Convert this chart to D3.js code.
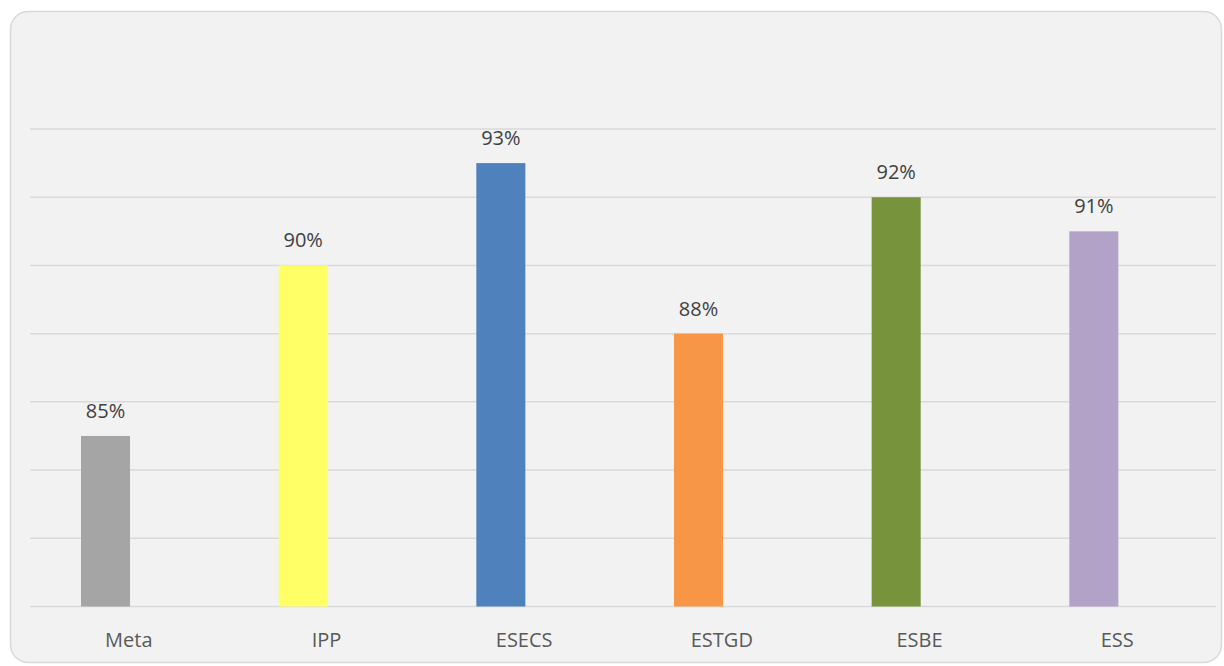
<!DOCTYPE html>
<html>
<head>
<meta charset="utf-8">
<script src="https://cdn.jsdelivr.net/npm/d3@7"></script>
<style>
    html, body { margin: 0; padding: 0; background: #ffffff; }
    svg { display: block; }
    text { font-family: "Open Sans", sans-serif; }
</style>
</head>
<body>
<div id="chart"></div>
<script>
// data
const categories = ["Meta", "IPP", "ESECS", "ESTGD", "ESBE", "ESS"];
const values = [85, 90, 93, 88, 92, 91];
const labels = ["85%", "90%", "93%", "88%", "92%", "91%"];
const colors = ["#a5a5a5", "#ffff66", "#4f81bd", "#f79646", "#77933c", "#b3a2c7"];
const gridTicks = [80, 82, 84, 86, 88, 90, 92, 94];

const WIDTH = 1224;
const HEIGHT = 666;
const margin = {top: 129, right: 8, bottom: 59, left: 30};

const svg = d3.select("#chart").append("svg")
    .attr("width", WIDTH)
    .attr("height", HEIGHT);

// chart area frame
svg.append("rect")
    .attr("x", 10.5)
    .attr("y", 11.5)
    .attr("width", 1211)
    .attr("height", 651)
    .attr("rx", 18)
    .attr("fill", "#f2f2f2")
    .attr("stroke", "#d9d9d9")
    .attr("stroke-width", 1.5);

const x = d3.scaleBand()
    .domain(categories)
    .range([margin.left, WIDTH - margin.right]);

const y = d3.scaleLinear()
    .domain([80, 94])
    .range([HEIGHT - margin.bottom - 0.5, margin.top]);

// gridlines
svg.append("g").attr("class", "grid")
    .selectAll("line")
    .data(gridTicks)
    .join("line")
    .attr("x1", margin.left)
    .attr("x2", WIDTH - margin.right)
    .attr("y1", d => y(d))
    .attr("y2", d => y(d))
    .attr("stroke", "#d9d9d9")
    .attr("stroke-width", 1.5);

const step = x.step();
const barOffset = step * 0.258;
const barWidth = step * 0.248;

const data = categories.map((c, i) => ({key: c, value: values[i], label: labels[i], color: colors[i]}));

svg.append("g").attr("class", "bars")
    .selectAll("rect")
    .data(data)
    .join("rect")
    .attr("x", d => x(d.key) + barOffset)
    .attr("y", d => y(d.value))
    .attr("width", barWidth)
    .attr("height", d => y(80) - y(d.value))
    .attr("fill", d => d.color);

// value labels
svg.append("g").attr("class", "values")
    .selectAll("text")
    .data(data)
    .join("text")
    .attr("x", d => x(d.key) + barOffset + barWidth / 2)
    .attr("y", d => y(d.value) - 18)
    .attr("text-anchor", "middle")
    .attr("font-size", 20)
    .attr("fill", "#404040")
    .text(d => d.label);

// category axis
const xAxis = d3.axisBottom(x).tickSize(0).tickPadding(0);
const xAxisContainer = svg.append("g")
    .attr("class", "x axis")
    .attr("transform", "translate(0," + y(80) + ")")
    .call(xAxis);
xAxisContainer.select(".domain").remove();
xAxisContainer.selectAll("text")
    .attr("dy", null)
    .attr("y", 40)
    .attr("font-size", 20)
    .attr("font-family", "'Open Sans', sans-serif")
    .attr("fill", "#595959");
</script>
</body>
</html>
